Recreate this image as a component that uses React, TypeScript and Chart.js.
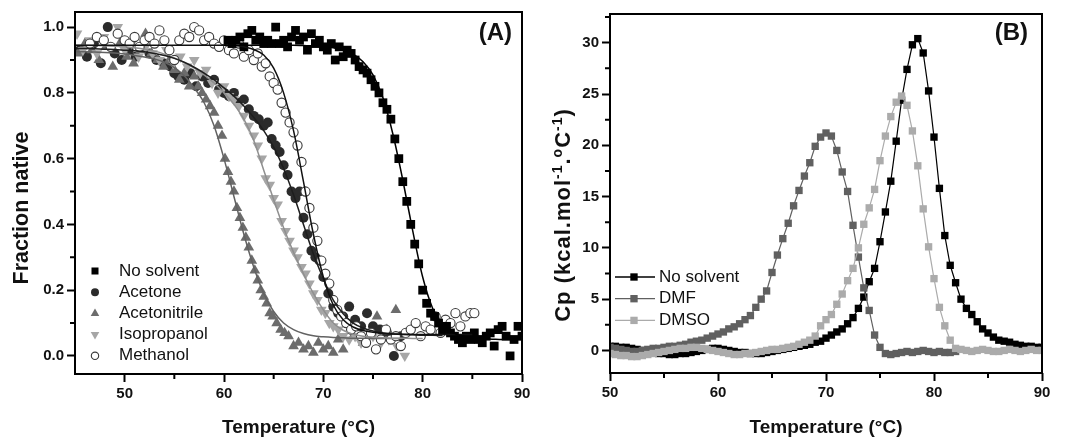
import React, { useEffect, useRef } from 'react';
import { Chart, registerables } from 'chart.js';
import { drawPoint } from 'chart.js/helpers';

Chart.register(...registerables);

const FONT = '"Liberation Sans", Arial, Helvetica, sans-serif';

// ---------------- Panel A: fraction native ----------------
const xTicksA = [50, 60, 70, 80, 90];
const xMinorA = [55, 65, 75, 85];
const yTicksA = [0, 0.2, 0.4, 0.6, 0.8, 1.0];
const yMinorA = [0.1, 0.3, 0.5, 0.7, 0.9];

const noSolventT = [60.4, 60.8, 61.2, 61.6, 62.0, 62.4, 62.8, 63.2, 63.6, 64.0, 64.4, 64.8, 65.2, 65.6, 66.0, 66.4, 66.8, 67.2, 67.6, 68.0, 68.4, 68.8, 69.2, 69.6, 70.0, 70.4, 70.8, 71.2, 71.6, 72.0, 72.4, 72.8, 73.2, 73.6, 74.0, 74.4, 74.8, 75.2, 75.6, 76.0, 76.4, 76.8, 77.2, 77.6, 78.0, 78.4, 78.8, 79.2, 79.6, 80.0, 80.4, 80.8, 81.2, 81.6, 82.0, 82.4, 82.8, 83.2, 83.6, 84.0, 84.4, 84.8, 85.2, 85.6, 86.0, 86.4, 86.8, 87.2, 87.6, 88.0, 88.4, 88.8, 89.2, 89.6, 90.0];
const noSolventF = [0.96, 0.95, 0.96, 0.97, 0.94, 0.98, 0.99, 0.96, 0.97, 0.95, 0.96, 0.95, 1.00, 0.95, 0.96, 0.94, 0.97, 0.99, 0.96, 0.97, 0.93, 0.98, 0.95, 0.96, 0.94, 0.93, 0.95, 0.90, 0.94, 0.91, 0.93, 0.92, 0.90, 0.88, 0.87, 0.86, 0.84, 0.82, 0.80, 0.77, 0.75, 0.72, 0.66, 0.60, 0.53, 0.47, 0.40, 0.34, 0.28, 0.20, 0.16, 0.13, 0.12, 0.10, 0.08, 0.09, 0.07, 0.06, 0.05, 0.04, 0.06, 0.05, 0.07, 0.05, 0.04, 0.06, 0.07, 0.03, 0.08, 0.09, 0.06, 0.00, 0.05, 0.09, 0.06];

const acetoneT = [45.5, 46.2, 46.9, 47.6, 48.3, 49.0, 49.7, 50.4, 51.1, 51.8, 52.5, 53.2, 53.9, 54.6, 55.0, 55.4, 56.0, 56.6, 57.2, 57.8, 58.4, 59.0, 59.5, 60.0, 60.5, 61.0, 61.5, 62.0, 62.5, 63.0, 63.5, 64.0, 64.4, 64.8, 65.2, 65.6, 66.0, 66.4, 66.8, 67.2, 67.6, 68.0, 68.4, 68.8, 69.2, 69.6, 70.0, 70.5, 71.0, 71.5, 72.0, 72.6, 73.2, 73.8, 74.4, 75.0, 75.7, 76.4, 77.1, 77.8];
const acetoneF = [0.93, 0.91, 0.95, 0.89, 1.00, 0.92, 0.90, 0.93, 0.91, 0.94, 0.92, 0.90, 0.89, 0.88, 0.86, 0.85, 0.84, 0.86, 0.82, 0.85, 0.83, 0.84, 0.81, 0.80, 0.79, 0.80, 0.77, 0.78, 0.75, 0.73, 0.72, 0.70, 0.71, 0.66, 0.64, 0.62, 0.58, 0.55, 0.50, 0.48, 0.50, 0.42, 0.37, 0.32, 0.30, 0.29, 0.24, 0.19, 0.15, 0.13, 0.12, 0.15, 0.11, 0.09, 0.13, 0.09, 0.08, 0.07, 0.00, 0.06];

const acetonitrileT = [45.3, 46.0, 46.7, 47.4, 48.1, 48.8, 49.5, 50.2, 50.9, 51.6, 52.1, 52.7, 53.3, 53.9, 54.5, 55.0, 55.5, 56.0, 56.5, 57.0, 57.4, 57.8, 58.2, 58.6, 59.0, 59.4, 59.8, 60.1, 60.4, 60.7, 61.0, 61.3, 61.6, 61.9, 62.2, 62.5, 62.8, 63.1, 63.4, 63.7, 64.0, 64.3, 64.6, 64.9, 65.3, 65.7, 66.1, 66.5, 67.0, 67.5, 68.0, 68.5, 69.0, 69.5, 70.0, 70.5, 71.0, 71.5, 72.0, 73.0, 74.0, 75.4, 76.4, 77.3];
const acetonitrileF = [0.92, 0.95, 0.93, 0.90, 0.94, 0.88, 0.95, 0.91, 0.89, 0.93, 0.98, 0.92, 0.90, 0.88, 0.90, 0.87, 0.84, 0.86, 0.82, 0.85, 0.82, 0.80, 0.78, 0.76, 0.74, 0.70, 0.67, 0.60, 0.56, 0.53, 0.50, 0.45, 0.42, 0.39, 0.36, 0.33, 0.29, 0.26, 0.23, 0.20, 0.18, 0.16, 0.13, 0.12, 0.10, 0.08, 0.07, 0.06, 0.03, 0.04, 0.02, 0.03, 0.01, 0.04, 0.02, 0.03, 0.01, 0.05, 0.02, 0.06, 0.04, 0.12, 0.08, 0.14];

const isopropanolT = [45.2, 45.8, 46.5, 47.2, 47.9, 48.6, 49.3, 50.0, 50.7, 51.4, 52.1, 52.8, 53.5, 54.2, 54.9, 55.6, 56.3, 57.0, 57.6, 58.2, 58.8, 59.4, 60.0, 60.5, 61.0, 61.5, 62.0, 62.5, 63.0, 63.4, 63.8, 64.2, 64.6, 65.0, 65.4, 65.8, 66.2, 66.6, 67.0, 67.4, 67.8, 68.2, 68.6, 69.0, 69.4, 69.8, 70.2, 70.6, 71.0, 71.5, 72.0, 72.6, 73.2, 73.8, 74.4, 75.0, 75.8, 76.6, 77.4, 78.2];
const isopropanolF = [0.98, 0.93, 0.96, 0.92, 0.97, 0.94, 1.00, 0.93, 0.95, 0.91, 0.94, 0.92, 0.90, 0.93, 0.89, 0.91, 0.88, 0.90, 0.86, 0.87, 0.83, 0.80, 0.82, 0.79, 0.78, 0.76, 0.73, 0.70, 0.67, 0.64, 0.60, 0.54, 0.52, 0.48, 0.46, 0.41, 0.38, 0.35, 0.32, 0.30, 0.27, 0.25, 0.22, 0.19, 0.17, 0.14, 0.13, 0.10, 0.09, 0.08, 0.06, 0.05, 0.06, 0.04, 0.05, 0.06, 0.04, 0.05, 0.03, 0.00];

const methanolT = [46.5, 47.2, 47.9, 48.6, 49.3, 50.0, 50.5, 51.0, 51.5, 52.0, 52.5, 53.0, 53.5, 54.0, 54.5, 55.0, 55.5, 56.0, 56.5, 57.0, 57.5, 58.0, 58.5, 59.0, 59.5, 60.0, 60.5, 61.0, 61.5, 62.0, 62.5, 63.0, 63.4, 63.8, 64.2, 64.6, 65.0, 65.4, 65.8, 66.2, 66.6, 67.0, 67.4, 67.8, 68.2, 68.6, 69.0, 69.4, 69.8, 70.2, 70.6, 71.0, 71.4, 71.8, 72.3, 72.8, 73.3, 73.8, 74.3, 74.8, 75.3, 75.8, 76.3, 76.8, 77.3, 77.8, 78.3, 78.8, 79.3, 79.8, 80.3, 80.8, 81.3, 81.8, 82.3, 82.8, 83.3, 83.8, 84.3, 84.8, 85.2];
const methanolF = [0.95, 0.97, 0.96, 0.94, 0.98, 0.96, 0.95, 0.97, 0.94, 0.96, 0.97, 0.95, 0.99, 0.96, 0.93, 0.90, 0.96, 0.98, 0.97, 1.00, 0.99, 0.96, 0.97, 0.95, 0.94, 0.96, 0.93, 0.92, 0.95, 0.91, 0.93, 0.90, 0.92, 0.88, 0.89, 0.85, 0.83, 0.81, 0.77, 0.74, 0.71, 0.68, 0.64, 0.59, 0.50, 0.45, 0.39, 0.35, 0.29, 0.25, 0.22, 0.17, 0.14, 0.12, 0.10, 0.08, 0.09, 0.06, 0.04, 0.07, 0.02, 0.05, 0.08, 0.05, 0.06, 0.03, 0.07, 0.08, 0.10, 0.06, 0.09, 0.08, 0.12, 0.07, 0.11, 0.10, 0.13, 0.09, 0.12, 0.13, 0.13];

// fitted curves, sampled every 1 °C from 45 to 90 (null = not drawn)
const fitT = [45, 46, 47, 48, 49, 50, 51, 52, 53, 54, 55, 56, 57, 58, 59, 60, 61, 62, 63, 64, 65, 66, 67, 68, 69, 70, 71, 72, 73, 74, 75, 76, 77, 78, 79, 80, 81, 82, 83, 84, 85, 86, 87, 88, 89, 90];
const fitNoSolvent = [null, null, null, null, null, null, null, null, null, null, null, null, null, null, null, 0.945, 0.945, 0.945, 0.945, 0.945, 0.945, 0.945, 0.945, 0.944, 0.943, 0.941, 0.937, 0.931, 0.918, 0.895, 0.855, 0.785, 0.675, 0.535, 0.38, 0.24, 0.145, 0.095, 0.071, 0.06, 0.055, 0.052, 0.051, 0.05, 0.05, 0.05];
const fitMethanol = [0.945, 0.945, 0.945, 0.945, 0.945, 0.945, 0.945, 0.945, 0.945, 0.945, 0.945, 0.945, 0.945, 0.945, 0.945, 0.945, 0.944, 0.94, 0.932, 0.915, 0.875, 0.80, 0.685, 0.53, 0.37, 0.24, 0.155, 0.11, 0.088, 0.077, 0.072, 0.069, 0.067, 0.066, 0.065, 0.065, 0.065, 0.065, 0.065, 0.065, 0.065, null, null, null, null, null];
const fitAcetone = [0.935, 0.935, 0.934, 0.933, 0.932, 0.93, 0.928, 0.925, 0.92, 0.914, 0.905, 0.893, 0.878, 0.86, 0.84, 0.815, 0.79, 0.76, 0.725, 0.685, 0.635, 0.57, 0.49, 0.40, 0.31, 0.235, 0.17, 0.128, 0.10, 0.085, 0.076, 0.07, 0.067, 0.065, 0.064, 0.063, 0.063, 0.062, null, null, null, null, null, null, null, null];
const fitIsopropanol = [0.945, 0.945, 0.944, 0.943, 0.942, 0.94, 0.937, 0.933, 0.927, 0.918, 0.906, 0.892, 0.875, 0.855, 0.83, 0.80, 0.765, 0.72, 0.655, 0.565, 0.475, 0.39, 0.315, 0.25, 0.19, 0.14, 0.10, 0.078, 0.066, 0.06, 0.057, 0.055, 0.054, 0.054, 0.053, 0.053, null, null, null, null, null, null, null, null, null, null];
const fitAcetonitrile = [0.925, 0.925, 0.924, 0.923, 0.921, 0.918, 0.914, 0.909, 0.903, 0.893, 0.877, 0.852, 0.815, 0.77, 0.70, 0.60, 0.485, 0.37, 0.27, 0.19, 0.135, 0.10, 0.08, 0.068, 0.061, 0.058, 0.056, 0.055, 0.054, 0.054, 0.053, 0.053, 0.053, 0.053, null, null, null, null, null, null, null, null, null, null, null, null];

// ---------------- Panel B: DSC ----------------
const xTicksB = [50, 60, 70, 80, 90];
const xMinorB = [55, 65, 75, 85];
const yTicksB = [0, 5, 10, 15, 20, 25, 30];
const yMinorB = [2.5, 7.5, 12.5, 17.5, 22.5, 27.5, 32.5];

const tempB = [50, 50.5, 51, 51.5, 52, 52.5, 53, 53.5, 54, 54.5, 55, 55.5, 56, 56.5, 57, 57.5, 58, 58.5, 59, 59.5, 60, 60.5, 61, 61.5, 62, 62.5, 63, 63.5, 64, 64.5, 65, 65.5, 66, 66.5, 67, 67.5, 68, 68.5, 69, 69.5, 70, 70.5, 71, 71.5, 72, 72.5, 73, 73.5, 74, 74.5, 75, 75.5, 76, 76.5, 77, 77.5, 78, 78.5, 79, 79.5, 80, 80.5, 81, 81.5, 82, 82.5, 83, 83.5, 84, 84.5, 85, 85.5, 86, 86.5, 87, 87.5, 88, 88.5, 89, 89.5, 90];
const cpNoSolvent = [0.4, 0.4, 0.3, 0.3, 0.2, 0.1, 0.0, -0.1, -0.2, -0.3, -0.3, -0.4, -0.4, -0.3, -0.3, -0.2, -0.1, 0.0, 0.1, 0.2, 0.2, 0.1, 0.0, -0.1, -0.2, -0.2, -0.3, -0.3, -0.3, -0.2, -0.1, 0.0, 0.1, 0.2, 0.3, 0.4, 0.5, 0.6, 0.8, 0.9, 1.2, 1.5, 1.8, 2.1, 2.6, 3.2, 4.1, 5.2, 6.7, 8.0, 10.6, 13.5, 16.5, 20.4, 24.4, 27.4, 29.8, 30.4, 29.0, 25.3, 20.8, 15.8, 11.2, 8.3, 6.6, 5.0, 4.1, 3.5, 2.8, 2.1, 1.7, 1.3, 1.0, 0.9, 0.8, 0.6, 0.5, 0.4, 0.4, 0.3, 0.3];
const cpDMF = [0.3, 0.2, 0.1, 0.0, -0.1, -0.1, 0.0, 0.1, 0.2, 0.2, 0.3, 0.4, 0.4, 0.5, 0.6, 0.8, 0.9, 1.0, 1.2, 1.4, 1.6, 1.8, 2.1, 2.3, 2.6, 3.0, 3.4, 4.2, 5.0, 5.8, 7.6, 9.3, 10.9, 12.4, 14.1, 15.6, 17.0, 18.3, 19.9, 20.8, 21.2, 20.9, 19.5, 17.4, 15.5, 12.2, 9.1, 6.1, 3.9, 1.5, 0.3, -0.3, -0.4, -0.3, -0.2, -0.1, -0.2, -0.1, 0.0, -0.1, -0.2, -0.1, -0.2, -0.2, -0.1, null, null, null, null, null, null, null, null, null, null, null, null, null, null, null, null];
const cpDMSO = [-0.3, -0.4, -0.5, -0.5, -0.6, -0.6, -0.5, -0.4, -0.3, -0.2, -0.1, 0.0, 0.1, 0.2, 0.2, 0.3, 0.3, 0.2, 0.1, 0.0, -0.1, -0.2, -0.3, -0.4, -0.4, -0.3, -0.3, -0.2, -0.1, 0.0, 0.1, 0.1, 0.2, 0.3, 0.4, 0.6, 0.8, 1.0, 1.4, 2.4, 3.0, 3.5, 4.5, 5.5, 6.8, 8.0, 10.0, 12.3, 13.9, 15.7, 18.5, 20.9, 22.8, 24.2, 24.8, 23.9, 21.4, 18.0, 13.8, 10.1, 7.0, 4.2, 2.4, 1.0, 0.2, 0.1, 0.0, -0.1, 0.0, 0.1, 0.0, -0.1, -0.1, 0.0, 0.1, 0.0, -0.1, 0.0, 0.1, 0.0, 0.0];

const pts = (xs: number[], ys: (number | null)[]) =>
  xs.map((x, i) => ({ x, y: ys[i] })).filter((p) => p.y !== null && p.y !== undefined);

type LegendItem = { label: string; style: string; rot?: number; r: number; fill: string; stroke: string; bw: number; line?: string };
type Piece = { text: string; size: number; rise: number };

function drawRotatedTitle(ctx: CanvasRenderingContext2D, pieces: Piece[], cx: number, cy: number, spacing: number) {
  ctx.save();
  ctx.translate(cx, cy);
  ctx.rotate(-Math.PI / 2);
  (ctx as any).letterSpacing = `${spacing}px`;
  ctx.textAlign = 'left';
  ctx.textBaseline = 'alphabetic';
  ctx.fillStyle = '#111';
  let total = 0;
  pieces.forEach((p) => { ctx.font = `bold ${p.size}px ${FONT}`; total += ctx.measureText(p.text).width; });
  let x = -total / 2;
  pieces.forEach((p) => {
    ctx.font = `bold ${p.size}px ${FONT}`;
    ctx.fillText(p.text, x, 7 - p.rise);
    x += ctx.measureText(p.text).width;
  });
  ctx.restore();
}

function decorPlugin(o: any) {
  return {
    id: 'decor',
    afterDatasetsDraw(chart: any) {
      const { ctx, chartArea: a, scales } = chart;
      ctx.save();
      ctx.strokeStyle = '#000';
      ctx.lineWidth = 2;
      ctx.strokeRect(a.left, a.top, a.right - a.left, a.bottom - a.top);
      ctx.beginPath();
      o.xMinor.forEach((v: number) => {
        const p = scales.x.getPixelForValue(v);
        ctx.moveTo(p, a.bottom);
        ctx.lineTo(p, a.bottom + 5);
      });
      o.yMinor.forEach((v: number) => {
        const p = scales.y.getPixelForValue(v);
        ctx.moveTo(a.left - 5, p);
        ctx.lineTo(a.left, p);
      });
      ctx.stroke();

      ctx.fillStyle = '#111';
      ctx.font = `bold 24px ${FONT}`;
      ctx.textAlign = 'right';
      ctx.textBaseline = 'middle';
      ctx.fillText(o.label, o.labelX, o.labelY);

      ctx.font = `17px ${FONT}`;
      ctx.textAlign = 'left';
      o.legend.forEach((it: LegendItem, i: number) => {
        const y = o.legendY + i * o.legendStep;
        if (it.line) {
          ctx.strokeStyle = it.line;
          ctx.lineWidth = 1.3;
          ctx.beginPath();
          ctx.moveTo(o.lineX1, y);
          ctx.lineTo(o.lineX2, y);
          ctx.stroke();
        }
        ctx.fillStyle = it.fill;
        ctx.strokeStyle = it.stroke;
        ctx.lineWidth = it.bw;
        drawPoint(ctx, { pointStyle: it.style as any, rotation: it.rot || 0, radius: it.r, borderWidth: it.bw }, o.markerX, y);
        ctx.fillStyle = '#111';
        ctx.fillText(it.label, o.textX, y);
      });
      ctx.restore();

      drawRotatedTitle(ctx, o.yTitle, o.yTitleX, o.yTitleY, o.yTitleSpacing);
    },
  };
}

const tickFont = { family: FONT, size: 15, weight: 'bold' as const };
const titleFont = { family: FONT, size: 19, weight: 'bold' as const };

function axisX(ticks: number[], height: number) {
  return {
    type: 'linear' as const,
    afterBuildTicks: (s: any) => { s.ticks = ticks.map((v) => ({ value: v })); },
    afterFit: (s: any) => { s.height = height; },
    grid: { display: true, drawOnChartArea: false, drawTicks: true, tickLength: 8, tickWidth: 2, tickColor: '#000' },
    border: { display: false },
    ticks: { font: tickFont, color: '#111', padding: 3, maxRotation: 0, autoSkip: false },
    title: { display: true, text: 'Temperature (°C)', font: titleFont, color: '#111', padding: { top: 0, bottom: 0 } },
  };
}

function axisY(ticks: number[], width: number, fmt: (v: number) => string) {
  return {
    type: 'linear' as const,
    afterBuildTicks: (s: any) => { s.ticks = ticks.map((v) => ({ value: v })); },
    afterFit: (s: any) => { s.width = width; },
    grid: { display: true, drawOnChartArea: false, drawTicks: true, tickLength: 8, tickWidth: 2, tickColor: '#000' },
    border: { display: false },
    ticks: { font: tickFont, color: '#111', padding: 3, autoSkip: false, callback: (v: any) => fmt(Number(v)) },
    title: { display: false },
  };
}

const seriesA = [
  { label: 'No solvent', t: noSolventT, f: noSolventF, style: 'rect', rot: 0, r: 6.2, fill: '#000000', stroke: '#000000', bw: 0 },
  { label: 'Acetone', t: acetoneT, f: acetoneF, style: 'circle', rot: 0, r: 5, fill: '#2b2b2b', stroke: '#2b2b2b', bw: 0 },
  { label: 'Acetonitrile', t: acetonitrileT, f: acetonitrileF, style: 'triangle', rot: 0, r: 6.2, fill: '#6c6c6c', stroke: '#6c6c6c', bw: 0 },
  { label: 'Isopropanol', t: isopropanolT, f: isopropanolF, style: 'triangle', rot: 180, r: 6.2, fill: '#a6a6a6', stroke: '#a6a6a6', bw: 0 },
  { label: 'Methanol', t: methanolT, f: methanolF, style: 'circle', rot: 0, r: 4.6, fill: '#ffffff', stroke: '#3a3a3a', bw: 1.1 },
];

const fitsA = [
  { y: fitNoSolvent, color: '#000000' },
  { y: fitMethanol, color: '#111111' },
  { y: fitAcetone, color: '#1e1e1e' },
  { y: fitIsopropanol, color: '#8f8f8f' },
  { y: fitAcetonitrile, color: '#626262' },
];

const seriesB = [
  { label: 'No solvent', y: cpNoSolvent, color: '#000000', order: 3 },
  { label: 'DMF', y: cpDMF, color: '#606060', order: 2 },
  { label: 'DMSO', y: cpDMSO, color: '#ababab', order: 1 },
];

function PanelA() {
  const ref = useRef<HTMLCanvasElement>(null);
  useEffect(() => {
    const datasets: any[] = [];
    fitsA.forEach((f) => {
      datasets.push({
        data: pts(fitT, f.y), showLine: true, borderColor: f.color, borderWidth: 1.5,
        pointRadius: 0, cubicInterpolationMode: 'monotone', order: 0,
      });
    });
    seriesA.forEach((s, i) => {
      datasets.push({
        label: s.label, data: pts(s.t, s.f), showLine: false,
        pointStyle: s.style, rotation: s.rot, pointRadius: s.r,
        pointBackgroundColor: s.fill, pointBorderColor: s.stroke, pointBorderWidth: s.bw,
        order: i === 0 ? 1 : 6 - i,
      });
    });
    const chart = new Chart(ref.current!, {
      type: 'scatter',
      data: { datasets },
      options: {
        responsive: false, animation: false,
        layout: { padding: { top: 12, right: 13, left: 0, bottom: 0 } },
        plugins: { legend: { display: false }, tooltip: { enabled: false } },
        scales: {
          x: { ...axisX(xTicksA, 65), min: 45, max: 90 },
          y: { ...axisY(yTicksA, 75, (v) => v.toFixed(1)), min: -0.055, max: 1.046 },
        },
      } as any,
      plugins: [decorPlugin({
        xMinor: xMinorA, yMinor: yMinorA, label: '(A)', labelX: 512, labelY: 33,
        legendY: 271, legendStep: 21.2, markerX: 95, textX: 119,
        legend: seriesA.map((s) => ({ label: s.label, style: s.style, rot: s.rot, r: s.r * 0.8, fill: s.fill, stroke: s.stroke, bw: s.bw })),
        yTitle: [{ text: 'Fraction native', size: 21.5, rise: 0 }], yTitleX: 21, yTitleY: 208, yTitleSpacing: 0,
      })],
    });
    return () => chart.destroy();
  }, []);
  return <canvas ref={ref} width={535} height={439} style={{ position: 'absolute', left: 0, top: 0 }} />;
}

function PanelB() {
  const ref = useRef<HTMLCanvasElement>(null);
  useEffect(() => {
    const datasets = seriesB.map((s) => ({
      label: s.label, data: pts(tempB, s.y), showLine: true,
      borderColor: s.color, borderWidth: 1.2, pointStyle: 'rect', pointRadius: 5.2,
      pointBackgroundColor: s.color, pointBorderColor: s.color, pointBorderWidth: 0, order: s.order,
    }));
    const chart = new Chart(ref.current!, {
      type: 'scatter',
      data: { datasets } as any,
      options: {
        responsive: false, animation: false,
        layout: { padding: { top: 14, right: 27, left: 0, bottom: 0 } },
        plugins: { legend: { display: false }, tooltip: { enabled: false } },
        scales: {
          x: { ...axisX(xTicksB, 66), min: 50, max: 90 },
          y: { ...axisY(yTicksB, 75, (v) => String(v)), min: -2.2, max: 32.8 },
        },
      } as any,
      plugins: [decorPlugin({
        xMinor: xMinorB, yMinor: yMinorB, label: '(B)', labelX: 493, labelY: 33,
        legendY: 277, legendStep: 21.7, markerX: 99, textX: 124, lineX1: 80, lineX2: 120,
        legend: seriesB.map((s) => ({ label: s.label, style: 'rect', r: 5.2, fill: s.color, stroke: s.color, bw: 0, line: s.color })),
        yTitle: [
          { text: 'Cp (kcal.mol', size: 22, rise: 0 },
          { text: '-1', size: 14, rise: 8 },
          { text: '.', size: 22, rise: 0 },
          { text: 'o', size: 14, rise: 8 },
          { text: 'C', size: 22, rise: 0 },
          { text: '-1', size: 14, rise: 8 },
          { text: ')', size: 22, rise: 0 },
        ],
        yTitleX: 28, yTitleY: 215, yTitleSpacing: 1,
      })],
    });
    return () => chart.destroy();
  }, []);
  return <canvas ref={ref} width={534} height={439} style={{ position: 'absolute', left: 535, top: 0 }} />;
}

export default function App() {
  return (
    <div style={{ position: 'fixed', left: 0, top: 0, width: 1069, height: 439, background: '#fff', overflow: 'hidden' }}>
      <PanelA />
      <PanelB />
    </div>
  );
}
